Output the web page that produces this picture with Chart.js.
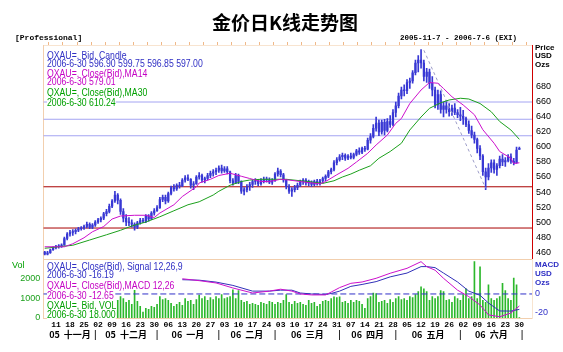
<!DOCTYPE html>
<html>
<head>
<meta charset="utf-8">
<script src="https://cdn.jsdelivr.net/npm/chart.js@4.4.0/dist/chart.umd.min.js"></script>
<style>
  body { margin: 0; background: #fff; width: 563px; height: 352px; overflow: hidden; position: relative;
         font-family: "Liberation Sans Narrow", "Liberation Sans", Arial, sans-serif; }
  canvas { position: absolute; left: 0; top: 0; }
  .t { position: absolute; white-space: nowrap; }
  .lg { position: absolute; left: 47px; background: #fff; font-size: 10px; line-height: 9px; height: 9px;
        white-space: nowrap; transform: scaleX(0.87); transform-origin: 0 0; }
  .blue { color: #2f2fc4; }
  .mag { color: #c400c4; }
  .grn { color: #00a000; }
  .ax { position: absolute; left: 535px; font-weight: bold; font-size: 8px; line-height: 8px; }
</style>
</head>
<body>
<canvas id="main" width="563" height="352"></canvas>
<canvas id="lower" width="563" height="352"></canvas>

<div class="t" style="left:0;width:570px;top:10px;text-align:center;font:bold 19px 'Noto Sans CJK SC';line-height:24px">金价日K线走势图</div>
<div class="t" style="left:15px;top:33px;font:bold 8px 'Liberation Mono';line-height:10px">[Professional]</div>
<div class="t" style="left:400px;top:33px;font:bold 7.5px 'Liberation Mono';line-height:10px">2005-11-7 - 2006-7-6 (EXI)</div>

<div class="ax" style="top:44px">Price</div>
<div class="ax" style="top:52px">USD</div>
<div class="ax" style="top:61px">Ozs</div>
<div class="ax blue" style="top:261px">MACD</div>
<div class="ax blue" style="top:270px">USD</div>
<div class="ax blue" style="top:279px">Ozs</div>
<div class="t grn" style="left:12px;top:261px;font-size:9px;line-height:9px">Vol</div>

<div class="lg blue" style="top:51px">QXAU=, Bid, Candle</div>
<div class="lg blue" style="top:59px">2006-6-30 596.90 599.75 596.85 597.00</div>
<div class="lg mag" style="top:69px">QXAU=, Close(Bid),MA14</div>
<div class="lg mag" style="top:77px">2006-6-30 579.01</div>
<div class="lg grn" style="top:88px">QXAU=, Close(Bid),MA30</div>
<div class="lg grn" style="top:98px">2006-6-30 610.24</div>

<div class="lg blue" style="top:262px">QXAU=, Close(Bid), Signal 12,26,9</div>
<div class="lg blue" style="top:270px">2006-6-30 -16.19</div>
<div class="lg mag" style="top:281px">QXAU=, Close(Bid),MACD 12,26</div>
<div class="lg mag" style="top:291px">2006-6-30 -12.65</div>
<div class="lg grn" style="top:301px">QXAU=, Bid, VOL</div>
<div class="lg grn" style="top:310px">2006-6-30 18.000</div>

<script>
// gold daily candles, one slot per weekday from 2005-11-7 (slot 0) to 2006-6-30 (slot 169)
const opens = [
  460,457,459,463,466, 467,468,469,478,484, 486,487,489,491,492, 494,497,493,496,500,
  503,505,511,514,521, 528,536,529,514,505, 500,499,497,493,499, 502,501,508,504,512,
  515,519,530,533,528, 538,546,544,549,548, 556,559,557,549,551, 560,562,556,558,562,
  565,567,569,572,568, 571,567,555,552,562, 554,541,543,547,550, 554,555,551,555,557,
  556,553,555,564,568, 563,556,547,541,543, 546,549,554,556,552, 553,550,554,552,555,
  558,561,567,570,579, 583,587,589,585,588, 586,590,595,593,598, 597,609,614,625,632,
  620,633,622,634,630, 646,655,668,676,675, 686,688,699,712,716, 712,694,700,685,676,
  656,670,650,655,650, 647,652,646,643,641, 638,630,622,616,610, 598,588,567,560,572,
  579,570,575,584,580, 582,587,581,579,596.9
];
const highs = [
  461,461,464,467,469, 470,471,480,486,489, 490,491,493,494,496, 500,499,498,502,505,
  507,513,517,524,530, 541,538,531,518,510, 506,503,499,501,505, 505,510,510,514,518,
  522,533,536,536,540, 548,550,551,553,558, 562,563,558,554,562, 566,564,560,565,568,
  570,572,575,576,574, 574,568,558,565,564, 555,546,550,553,556, 558,557,558,560,560,
  559,558,566,572,570, 565,557,550,546,549, 552,556,558,558,556, 555,556,557,557,560,
  563,569,572,582,586, 590,592,591,590,592, 592,597,599,600,601, 612,618,630,640,636,
  636,637,638,642,650, 660,672,680,683,690, 692,702,716,722,730, 716,705,704,694,680,
  676,675,660,662,658, 656,658,650,653,649, 640,635,628,620,612, 602,590,572,578,583,
  583,578,588,590,586, 590,591,585,600,599.75
];
const lows = [
  456,456,458,462,464, 465,466,469,476,481, 482,484,487,489,490, 492,491,491,494,498,
  500,503,508,512,519, 526,524,510,500,495, 495,493,489,491,497, 499,499,501,503,509,
  514,518,527,524,526, 536,541,542,545,547, 553,555,545,543,550, 557,553,552,556,559,
  561,563,566,565,566, 564,552,549,551,551, 538,536,540,542,546, 550,548,549,552,553,
  551,550,554,561,560, 553,544,538,534,540, 543,547,550,549,548, 547,548,549,549,552,
  555,559,564,568,576, 581,583,582,583,584, 584,588,590,591,594, 596,605,612,621,615,
  617,616,620,626,628, 640,652,664,668,671, 678,685,696,700,705, 688,686,678,668,652,
  650,645,640,645,641, 642,643,639,635,630, 627,618,612,605,592, 583,562,543,556,566,
  565,562,572,575,574, 580,578,576,578,596.85
];
const closes = [
  457,459,463,466,467, 468,469,478,484,486, 487,489,491,492,494, 497,493,496,500,503,
  505,511,514,521,528, 536,529,514,505,500, 499,497,493,499,502, 501,508,504,512,515,
  519,530,533,528,538, 546,544,549,548,556, 559,557,549,551,560, 562,556,558,562,565,
  567,569,572,568,571, 567,555,552,562,554, 541,543,547,550,554, 555,551,555,557,556,
  553,555,564,568,563, 556,547,541,543,546, 549,554,556,552,553, 550,554,552,555,558,
  561,567,570,579,583, 587,589,585,588,586, 590,595,593,598,597, 609,614,625,632,620,
  633,622,634,630,646, 655,668,676,675,686, 688,699,712,716,712, 694,700,685,676,656,
  670,650,655,650,647, 652,646,643,641,638, 630,622,616,610,598, 588,567,560,572,579,
  570,575,584,580,582, 587,581,579,596,597
];

// moving averages (slot, value)
const ma14Slots = [0,7,10,14,17,21,24,27,32,36, 39,41,46,49,54,55,59,62,66,70,
  73,77,80,84,87,91,94,98,100,104, 108,111,115,118,122,125,127,130,134,137,
  140,142,145,149,153,156,160,162,166,167, 169];
const ma14Values = [467,467,471,479,487,494,504,508,509,509, 506,512,523,534,547,552,557,562,565,561,
  558,554,554,557,556,554,552.5,551,554,563, 571.6,580,591.6,602.7,616,631.6,638,658,676,686,
  685,678,667,656,643,623,605,594,585,578, 579.01];
const ma30Slots = [0,10,16,22,27,31,36,41,46,51, 55,60,62,66,70,73,77,86,91,94,
  99,103,106,109,112,116,119,123,127,130, 134,137,141,144,148,151,155,159,162,166, 169];
const ma30Values = [465,469,476,483,489,494.7,500,507,515,523, 527,536,541,549,554,556,557,557,555,554,
  551.5,555,560,564,569,575,585,594,605,622.7, 640,651.6,659,662.7,665,664,658,647,634,622.7, 610.24];

const trendSlots = [135, 157];
const trendValues = [729, 545];
const blueLevels = [660, 637, 615];
const redLevels = [547, 492];

// volume, hidden behind the legend for the first weeks
const volumes = [
  null,null,null,null,null, null,null,null,null,null, null,null,null,null,null, null,null,null,null,null,
  null,null,null,null,null, null,900,1100,1000,800, 900,700,1430,850,600, 300,500,450,600,550,
  700,1100,950,1000,900, 750,600,700,800,650, 1000,850,900,700,950, 1180,1000,1100,900,1050,
  950,1100,1000,1200,1000, 1050,1100,1450,1000,1400, 900,800,850,700,750, 700,650,800,750,700,
  850,800,700,800,750, 900,1200,800,700,850, 750,800,700,650,900, 750,800,600,700,850,
  900,850,1000,1080,1050, 1080,800,850,750,900, 800,900,850,700,500, 1000,1100,1280,1250,800,
  850,900,750,950,800, 1000,1100,950,1000,900, 1100,1050,1200,1350,1600, 1500,1350,900,1100,1000,
  1100,1400,1350,900,950, 800,1100,1000,900,1200, 1500,1000,1100,2900,1000, 2630,900,800,1700,1000,
  900,1000,1100,1780,1400, 1000,900,2050,1700,18
];

const macdSlots = [49,55,61,67,74,80,84,88,91,95, 100,102,105,109,113,118,123,129,134,136,
  139,142,147,151,155,158,162,166,169];
const macdValues = [16,14,11.6,6.3,1,3,5,3,0,-1, -1,2,6.7,11.2,12.6,16.5,21.8,27,34,28.8,
  25,16.5,4,-2.8,-11.6,-22,-24,-20,-12.65];
const signalValues = [15,14.5,12.5,9,3,3,4,4,1,0, -0.5,0.5,3,8,10,13,18,22,28.8,28.8,
  27.7,22,12.6,3,-1.4,-9.5,-17.9,-18,-16.19];

const priceTicks = [460,480,500,520,540,560,580,600,620,640,660,680];
const volTicks = [0,1000,2000];
const macdTicks = [-20,0];
const fridaySlots = [4,9,14,19,24,29,34,39,44,49,54,59,64,69,74,79,84,89,94,99,104,109,114,119,124,129,134,139,144,149,154,159,164,169];
const tickLabels = ['11','18','25','02','09','16','23','30','06','13','20','27','03','10','17','24',
  '03','10','17','24','31','07','14','21','28','05','12','19','26','02','09','16','23','30'];
const monthStarts = [0,18,40,62,82,105,125,148,170];
const monthLabels = ['05  十一月','05  十二月','06  一月','06  二月','06  三月','06  四月','06  五月','06  六月'];

const xMin = -0.5, xMax = 173.5;
const BLUE = '#3838d4', MAG = '#cc10cc', GREEN = '#1ca01c', PEACH = '#f2cfae';
const narrow = '"Liberation Sans Narrow", "Liberation Sans", Arial, sans-serif';

const pts = (xs, ys) => xs.map((x, i) => ({ x, y: ys[i] }));
const level = (v, color) => ({
  type: 'line', data: [{ x: xMin, y: v }, { x: xMax, y: v }],
  borderColor: color, borderWidth: 1, pointRadius: 0,
});
const fixed = (ticks) => (s) => { s.ticks = ticks.map(v => ({ value: v })); };
const plain = (v) => String(v);

// month axis: a label in the middle of each month, a bar at each month start
const monthTicks = [];
monthLabels.forEach((m, i) => {
  monthTicks.push({ v: (monthStarts[i] + monthStarts[i + 1]) / 2, t: m });
  monthTicks.push({ v: monthStarts[i + 1], t: '|' });
});

// --- main price panel ---
new Chart(document.getElementById('main'), {
  type: 'line',
  data: { datasets: [
    { type: 'line', data: pts(ma14Slots, ma14Values), borderColor: MAG, borderWidth: 1, pointRadius: 0 },
    { type: 'line', data: pts(ma30Slots, ma30Values), borderColor: GREEN, borderWidth: 1, pointRadius: 0 },
    { type: 'line', data: pts(trendSlots, trendValues), borderColor: '#9c9cc8', borderWidth: 1, borderDash: [3, 3], pointRadius: 0 },
    { type: 'bar', data: opens.map((o, i) => ({ x: i, y: [o, closes[i]] })), backgroundColor: BLUE,
      barThickness: 1.6, minBarLength: 1, grouped: false, borderWidth: 0 },
    { type: 'bar', data: lows.map((l, i) => ({ x: i, y: [l, highs[i]] })), backgroundColor: BLUE,
      barThickness: 1, grouped: false, borderWidth: 0 },
    ...blueLevels.map(v => level(v, '#a4a4f2')),
    ...redLevels.map(v => level(v, '#a80000')),
  ]},
  options: {
    responsive: false, animation: false, devicePixelRatio: 1,
    layout: { padding: { left: 43.3, top: 42, right: 0, bottom: 93 } },
    plugins: { legend: { display: false }, tooltip: { enabled: false } },
    scales: {
      x: { type: 'linear', position: 'top', min: xMin, max: xMax, offset: false,
        grid: { drawOnChartArea: false, color: '#f0b888', tickLength: 3 },
        border: { color: '#f8e4d0' }, ticks: { display: false },
        afterBuildTicks: fixed(fridaySlots), afterFit: s => { s.height = 3; } },
      xb: { type: 'linear', position: 'bottom', min: xMin, max: xMax, offset: false,
        grid: { display: false }, border: { color: PEACH }, ticks: { display: false },
        afterFit: s => { s.height = 0; } },
      y: { type: 'linear', position: 'right', min: 450.7, max: 736,
        grid: { display: false, drawTicks: false }, border: { color: '#d00000' },
        ticks: { color: '#000', padding: 4, font: { family: narrow, size: 9 }, callback: plain },
        afterBuildTicks: fixed(priceTicks), afterFit: s => { s.width = 31; } },
      yl: { type: 'linear', position: 'left', min: 0, max: 1,
        grid: { display: false, drawTicks: false }, border: { color: PEACH }, ticks: { display: false },
        afterFit: s => { s.width = 0; } },
    },
  },
});

// --- lower MACD / volume panel ---
new Chart(document.getElementById('lower'), {
  type: 'line',
  data: { datasets: [
    { type: 'line', yAxisID: 'ym', data: pts(macdSlots, macdValues), borderColor: MAG, borderWidth: 1, pointRadius: 0 },
    { type: 'line', yAxisID: 'ym', data: pts(macdSlots, signalValues), borderColor: '#3030b8', borderWidth: 1, pointRadius: 0 },
    { type: 'line', yAxisID: 'ym', data: [{ x: xMin, y: 0 }, { x: xMax, y: 0 }], borderColor: '#3030c8',
      borderWidth: 1, borderDash: [6, 3], pointRadius: 0 },
    { type: 'bar', yAxisID: 'yv', data: volumes.map((v, i) => ({ x: i, y: v })), backgroundColor: '#2cb82c',
      barThickness: 1, grouped: false, borderWidth: 0 },
  ]},
  options: {
    responsive: false, animation: false, devicePixelRatio: 1,
    layout: { padding: { left: 0, top: 259, right: 0, bottom: 12 } },
    plugins: { legend: { display: false }, tooltip: { enabled: false } },
    scales: {
      x: { type: 'linear', position: 'bottom', min: xMin, max: xMax, offset: false,
        grid: { display: false, drawTicks: false }, border: { color: PEACH },
        ticks: { color: '#000', padding: 2, autoSkip: false, maxRotation: 0,
          font: { family: '"Liberation Mono", monospace', size: 8, weight: 'bold' },
          callback: (v, i) => tickLabels[i] },
        afterBuildTicks: fixed(fridaySlots), afterFit: s => { s.height = 10; } },
      xm: { type: 'linear', position: 'bottom', min: xMin, max: xMax, offset: false,
        grid: { display: false, drawTicks: false }, border: { display: false },
        ticks: { color: '#000', padding: 1, autoSkip: false, maxRotation: 0,
          font: { family: '"Noto Sans CJK SC", sans-serif', size: 9, weight: 'bold' },
          callback: (v, i) => monthTicks[i].t },
        afterBuildTicks: s => { s.ticks = monthTicks.map(m => ({ value: m.v })); },
        afterFit: s => { s.height = 12; } },
      yv: { type: 'linear', position: 'left', min: 0, max: 3026,
        grid: { display: false, drawTicks: false }, border: { color: PEACH },
        ticks: { color: '#1ca01c', padding: 3, font: { family: narrow, size: 9 }, callback: plain },
        afterBuildTicks: fixed(volTicks), afterFit: s => { s.width = 43.3; } },
      ym: { type: 'linear', position: 'right', min: -25.3, max: 36.8,
        grid: { display: false, drawTicks: false }, border: { color: '#f8e4d0' },
        ticks: { color: '#3030c8', padding: 3, font: { family: narrow, size: 9 }, callback: plain },
        afterBuildTicks: fixed(macdTicks), afterFit: s => { s.width = 31; } },
    },
  },
});
</script>
</body>
</html>
